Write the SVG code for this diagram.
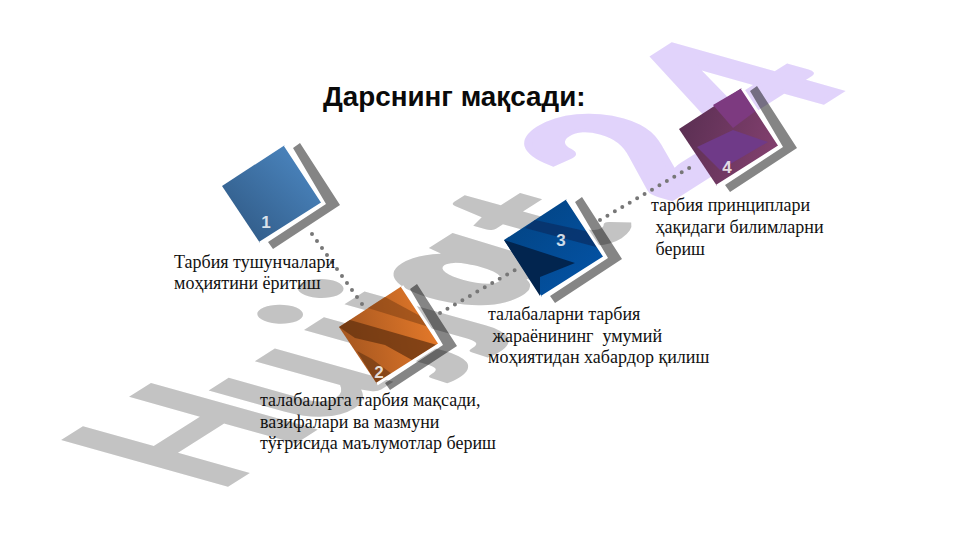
<svg xmlns="http://www.w3.org/2000/svg" width="961" height="540" viewBox="0 0 961 540">
<style>
.wm{font-family:"Lato","Liberation Sans",sans-serif;font-weight:900;font-size:100px}
.wa{font-family:"Open Sans","Liberation Sans",sans-serif;font-style:italic;font-weight:800;font-size:90px}
.t{font-family:"Liberation Serif","Times New Roman",serif;font-size:18px;fill:#111;white-space:pre}
.h{font-family:"Liberation Sans",Arial,sans-serif;font-weight:700;font-size:27.8px;fill:#0a0a0a}
.n{font-family:"Liberation Sans",Arial,sans-serif;font-weight:700;font-size:17px;fill:#fff;fill-opacity:.82;text-anchor:middle}
.c{fill:none;stroke:#777;stroke-width:4;stroke-linecap:round;stroke-dasharray:0 8.6}
.w{fill:none;stroke:#fff;stroke-width:3}
</style>
<defs>
<polygon id="ell" points="293,148 300,143 340,205 273,249 268,242 326,204" fill="#000" fill-opacity=".48"/>
<polyline id="edge" class="w" points="285,145 323,203 260,243"/>
<linearGradient id="g1" x1="0" y1="1" x2="1" y2="0"><stop offset="0" stop-color="#2d557f"/><stop offset="1" stop-color="#4f8cc8"/></linearGradient>
<linearGradient id="g2" x1="0" y1="0.6" x2="1" y2="0.4"><stop offset="0" stop-color="#a3551f"/><stop offset="1" stop-color="#e67a2a"/></linearGradient>
<linearGradient id="g3" x1="0" y1="0" x2="1" y2="1"><stop offset="0" stop-color="#02427f"/><stop offset="1" stop-color="#0455aa"/></linearGradient>
<linearGradient id="g4" x1="0" y1="0.3" x2="1" y2="0.6"><stop offset="0" stop-color="#5a2f52"/><stop offset="1" stop-color="#83406f"/></linearGradient>
</defs>
<rect width="961" height="540" fill="#fff"/>
<g id="watermark">
<text class="wm" fill="#c3c3c3" transform="matrix(1.446,-0.92,2.3,0.643,220,492)" x="-2 69 134 162 253">Hujjt</text>
<text class="wa" fill="#c3c3c3" transform="matrix(1.446,-0.92,2.3,0.643,215,489) skewX(12) scale(1.2,1)" x="158">a</text>
<text class="wm" fill="#e1d3fb" stroke="#e1d3fb" stroke-width="3" transform="matrix(1.446,-0.92,2.3,0.643,215,489)" x="312 385">24</text>
</g>
<text class="h" x="323" y="106">Дарснинг мақсади:</text>
<g id="connectors">
<path class="c" d="M312,234L362,304"/>
<path class="c" d="M440,313L522,266"/>
<path class="c" d="M600,220L696,164"/>
</g>
<g id="node1">
<use href="#ell"/>
<polygon points="285,145 323,203 260,243 222,186" fill="url(#g1)"/>
<use href="#edge"/>
<text class="n" x="266" y="228">1</text>
</g>
<g id="node2">
<use href="#ell" x="117" y="141"/>
<polygon points="402,286 440,344 377,384 339,327" fill="url(#g2)"/>
<polygon points="385,297 422,317 429,327 368,308" fill="#7d3f14" fill-opacity=".55"/>
<polygon points="339,327 350,320 437,345 412,360 385,345 355,338" fill="#5f2f0e" fill-opacity=".7"/>
<polygon points="357,351 377,384 392,374 372,359" fill="#4a250c" fill-opacity=".45"/>
<use href="#edge" x="117" y="141"/>
<text class="n" x="379" y="378">2</text>
</g>
<g id="node3">
<use href="#ell" x="282" y="54"/>
<polygon points="567,199 605,257 542,297 504,240" fill="url(#g3)"/>
<polygon points="535,220 590,232 600,248 525,228" fill="#0a2f66" fill-opacity=".75"/>
<polygon points="504,240 575,263 540,277 540,296" fill="#02254f"/>
<use href="#edge" x="282" y="54"/>
<text class="n" x="561" y="246">3</text>
</g>
<g id="node4">
<use href="#ell" x="457" y="-57"/>
<polygon points="742,88 780,146 717,186 679,129" fill="url(#g4)"/>
<polygon points="713,105 742,88 757,110 733,128" fill="#7d3a80"/>
<polygon points="697,147 733,130 768,142 720,170" fill="#6f3a88"/>
<use href="#edge" x="457" y="-57"/>
<text class="n" x="727" y="173">4</text>
</g>
<g id="labels">
<text class="t" x="174" y="268">Тарбия тушунчалари</text>
<text class="t" x="174" y="289">моҳиятини ёритиш</text>
<text class="t" x="260" y="406">талабаларга тарбия мақсади,</text>
<text class="t" x="260" y="428">вазифалари ва мазмуни</text>
<text class="t" x="260" y="449">тўғрисида маълумотлар бериш</text>
<text class="t" x="488" y="320">талабаларни тарбия</text>
<text class="t" x="488" y="342"> жараёнининг  умумий</text>
<text class="t" x="488" y="363">моҳиятидан хабардор қилиш</text>
<text class="t" x="651" y="211">тарбия принциплари</text>
<text class="t" x="651" y="233"> ҳақидаги билимларни</text>
<text class="t" x="651" y="255"> бериш</text>
</g>
</svg>
